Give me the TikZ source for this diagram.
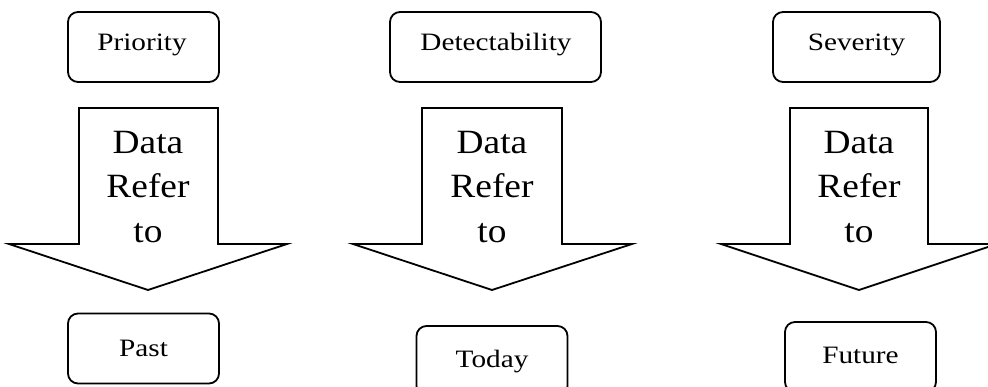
\documentclass[tikz,border=0pt]{standalone}
\usepackage{fontspec}
\setmainfont{Liberation Serif}
\begin{document}
\begin{tikzpicture}[x=1pt,y=-1pt,
  line width=1.8pt, line join=miter,
  label box/.style={draw, rounded corners=10pt, minimum width=151pt, minimum height=70pt, inner sep=0pt},
  small text/.style={font=\fontsize{25}{29}\selectfont, xscale=1.17, inner sep=0pt, anchor=base},
  big text/.style={font=\fontsize{34}{44.5}\selectfont, align=center, xscale=1.1, inner sep=0pt},
  block arrow/.style={draw, line width=1.8pt}]
\useasboundingbox (0,0) rectangle (988,387);
\begin{scope}
\clip (0,0) rectangle (988,387);

% top boxes
\node[label box] (priority) at (143.5,47) {};
\node[small text] (prioritytext) at (142,51) {Priority};
\node[label box, minimum width=211pt] (detect) at (495.5,47) {};
\node[small text] (detecttext) at (496,51) {Detectability};
\node[label box, minimum width=167pt] (severity) at (856.5,47) {};
\node[small text] (severitytext) at (856.5,51) {Severity};

% block arrows
\draw[block arrow] (79,108) -- (218,108) -- (218,244) -- (287,244) -- (148,290) -- (9,244) -- (79,244) -- cycle;
\draw[block arrow] (422,108) -- (562,108) -- (562,244) -- (632,244) -- (492,290) -- (353,244) -- (422,244) -- cycle;
\draw[block arrow] (790,108) -- (928,108) -- (928,244) -- (997,244) -- (859,290) -- (721,244) -- (790,244) -- cycle;

\node[big text] (data1) at (148,187) {Data\\Refer\\to};
\node[big text] (data2) at (492,187) {Data\\Refer\\to};
\node[big text] (data3) at (859,187) {Data\\Refer\\to};

% bottom boxes
\node[label box] (past) at (143.5,348.5) {};
\node[small text] (pasttext) at (143.5,356) {Past};
\node[label box] (today) at (492,361) {};
\node[small text] (todaytext) at (492,367) {Today};
\node[label box] (future) at (860.5,357) {};
\node[small text] (futuretext) at (860.5,363) {Future};
\end{scope}
\end{tikzpicture}
\end{document}
